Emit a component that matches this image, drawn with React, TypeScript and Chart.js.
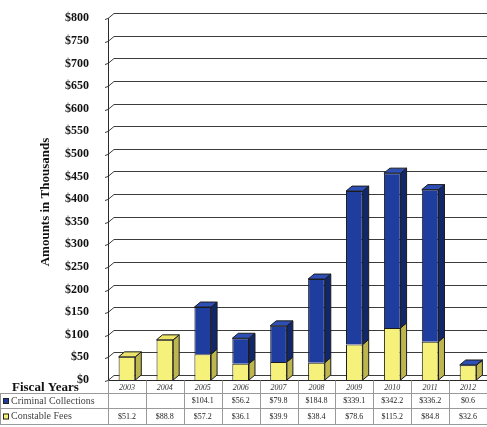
import React, { useEffect, useRef } from "react";
import { Chart, registerables } from "chart.js";

Chart.register(...registerables);

const years = ["2003", "2004", "2005", "2006", "2007", "2008", "2009", "2010", "2011", "2012"];
const criminalCollections: (number | null)[] = [null, null, 104.1, 56.2, 79.8, 184.8, 339.1, 342.2, 336.2, 0.6];
const constableFees: number[] = [51.2, 88.8, 57.2, 36.1, 39.9, 38.4, 78.6, 115.2, 84.8, 32.6];
const yTicks: number[] = [0, 50, 100, 150, 200, 250, 300, 350, 400, 450, 500, 550, 600, 650, 700, 750, 800];

const seriesNames = ["Constable Fees", "Criminal Collections"];
const frontColors = ["#F6F17A", "#1F3D9E"];
const sideColors = ["#BDB64E", "#12276A"];
const topColors = ["#EDE56A", "#2E4FB5"];
const outline = "#1c1c1c";
const DX = 6;
const DY = 5;

const fmt = (v: number | null) => (v == null ? "" : "$" + v.toFixed(1));

const threeD = {
  id: "threeD",
  beforeDatasetsDraw(chart: any) {
    const { ctx, chartArea, scales } = chart;
    const y = scales.y;
    ctx.save();
    ctx.lineWidth = 1;
    for (const t of yTicks) {
      const py = Math.round(y.getPixelForValue(t)) + 0.5;
      ctx.strokeStyle = "#3c3c3c";
      ctx.beginPath();
      ctx.moveTo(chartArea.left - 3, py + 1);
      ctx.lineTo(chartArea.left, py);
      ctx.lineTo(chartArea.left + DX, py - DY);
      ctx.lineTo(chartArea.right, py - DY);
      ctx.stroke();
    }
    // axis
    ctx.strokeStyle = "#2a2a2a";
    ctx.beginPath();
    ctx.moveTo(chartArea.left + 0.5, chartArea.top);
    ctx.lineTo(chartArea.left + 0.5, chartArea.bottom);
    ctx.stroke();
    // floor front edge
    ctx.beginPath();
    ctx.moveTo(chartArea.left, Math.round(chartArea.bottom) + 0.5);
    ctx.lineTo(chartArea.right, Math.round(chartArea.bottom) + 0.5);
    ctx.stroke();
    ctx.restore();
  },
  afterDatasetsDraw(chart: any) {
    const { ctx } = chart;
    const n = chart.data.labels.length;
    ctx.save();
    ctx.lineWidth = 1;
    ctx.strokeStyle = outline;
    for (let i = 0; i < n; i++) {
      let topMost: any = null;
      chart.data.datasets.forEach((ds: any, d: number) => {
        const v = ds.data[i];
        if (v == null || v === 0) return;
        const el = chart.getDatasetMeta(d).data[i];
        const { x, y, base, width } = el.getProps(["x", "y", "base", "width"], true);
        const right = x + width / 2;
        const left = x - width / 2;
        ctx.fillStyle = sideColors[d];
        ctx.beginPath();
        ctx.moveTo(right, y);
        ctx.lineTo(right + DX, y - DY);
        ctx.lineTo(right + DX, base - DY);
        ctx.lineTo(right, base);
        ctx.closePath();
        ctx.fill();
        ctx.stroke();
        topMost = { d, left, right, y };
      });
      if (topMost) {
        const { d, left, right, y } = topMost;
        ctx.fillStyle = topColors[d];
        ctx.beginPath();
        ctx.moveTo(left, y);
        ctx.lineTo(left + DX, y - DY);
        ctx.lineTo(right + DX, y - DY);
        ctx.lineTo(right, y);
        ctx.closePath();
        ctx.fill();
        ctx.stroke();
      }
    }
    ctx.restore();
  },
  afterDraw(chart: any) {
    const { ctx, chartArea, scales } = chart;
    const x = scales.x;
    const n = years.length;
    const colW = chartArea.width / n;
    const r0 = Math.round(chartArea.bottom) + 0.5;
    const r1 = r0 + 13;
    const r2 = r1 + 15;
    const r3 = r2 + 16;
    ctx.save();
    // y axis title
    ctx.save();
    ctx.translate(46, 202);
    ctx.rotate(-Math.PI / 2);
    ctx.font = "bold 13px 'Liberation Serif', serif";
    ctx.fillStyle = "#111";
    ctx.textAlign = "center";
    ctx.textBaseline = "middle";
    ctx.fillText("Amounts in Thousands", 0, 0);
    ctx.restore();

    // table lines
    ctx.strokeStyle = "#9a9a9a";
    ctx.lineWidth = 1;
    for (const ry of [r1, r2, r3]) {
      ctx.beginPath();
      ctx.moveTo(0, ry);
      ctx.lineTo(chartArea.right, ry);
      ctx.stroke();
    }
    for (let i = 0; i <= n; i++) {
      const bx = Math.round(chartArea.left + colW * i) + 0.5;
      ctx.beginPath();
      ctx.moveTo(bx, r0);
      ctx.lineTo(bx, r3);
      ctx.stroke();
    }
    ctx.beginPath();
    ctx.moveTo(0.5, r1);
    ctx.lineTo(0.5, r3);
    ctx.stroke();

    // header
    ctx.fillStyle = "#111";
    ctx.font = "bold 13px 'Liberation Serif', serif";
    ctx.textAlign = "left";
    ctx.textBaseline = "middle";
    ctx.fillText("Fiscal Years", 12, r0 + 7);

    ctx.textAlign = "center";
    for (let i = 0; i < n; i++) {
      const cx = x.getPixelForValue(i);
      ctx.fillStyle = "#333";
      ctx.font = "italic 8px 'Liberation Serif', serif";
      ctx.fillText(years[i], cx, (r0 + r1) / 2 + 1);
      ctx.fillStyle = "#222";
      ctx.font = "8px 'Liberation Serif', serif";
      ctx.fillText(fmt(criminalCollections[i]), cx, (r1 + r2) / 2);
      ctx.fillText(fmt(constableFees[i]), cx, (r2 + r3) / 2);
    }

    // legend keys
    const rows = [
      { name: seriesNames[1], color: frontColors[1], yy: (r1 + r2) / 2 },
      { name: seriesNames[0], color: frontColors[0], yy: (r2 + r3) / 2 },
    ];
    for (const r of rows) {
      ctx.fillStyle = r.color;
      ctx.fillRect(3, r.yy - 3, 6, 6);
      ctx.strokeStyle = "#222";
      ctx.strokeRect(3.5, r.yy - 2.5, 5, 5);
      ctx.fillStyle = "#444";
      ctx.font = "10px 'Liberation Serif', serif";
      ctx.textAlign = "left";
      ctx.fillText(r.name, 11, r.yy);
    }
    ctx.restore();
  },
};

export default function App() {
  const ref = useRef<HTMLCanvasElement>(null);
  useEffect(() => {
    if (!ref.current) return;
    const chart = new Chart(ref.current, {
      type: "bar",
      data: {
        labels: years,
        datasets: [
          {
            label: seriesNames[0],
            data: constableFees,
            backgroundColor: frontColors[0],
            borderColor: outline,
            borderWidth: 1,
            barPercentage: 0.44,
            categoryPercentage: 1,
          },
          {
            label: seriesNames[1],
            data: criminalCollections,
            backgroundColor: frontColors[1],
            borderColor: outline,
            borderWidth: 1,
            barPercentage: 0.44,
            categoryPercentage: 1,
          },
        ],
      },
      options: {
        responsive: false,
        animation: false,
        layout: { padding: { left: 0, right: 0, top: 10, bottom: 47 } },
        plugins: { legend: { display: false }, tooltip: { enabled: false } },
        scales: {
          x: { display: false, stacked: true },
          y: {
            stacked: true,
            min: 0,
            max: 800,
            afterFit: (s: any) => {
              s.width = 108;
            },
            afterBuildTicks: (s: any) => {
              s.ticks = yTicks.map((v) => ({ value: v }));
            },
            grid: { display: false },
            border: { display: false },
            ticks: {
              padding: 11,
              color: "#111",
              font: { family: "'Liberation Serif', serif", size: 12, weight: "bold" },
              callback: (v: any) => "$" + v,
            },
          },
        },
      },
      plugins: [threeD],
    });
    return () => chart.destroy();
  }, []);
  return (
    <div style={{ position: "fixed", left: 0, top: 0, width: 487, height: 427, background: "#fff" }}>
      <canvas ref={ref} width={487} height={427} style={{ display: "block" }} />
    </div>
  );
}
